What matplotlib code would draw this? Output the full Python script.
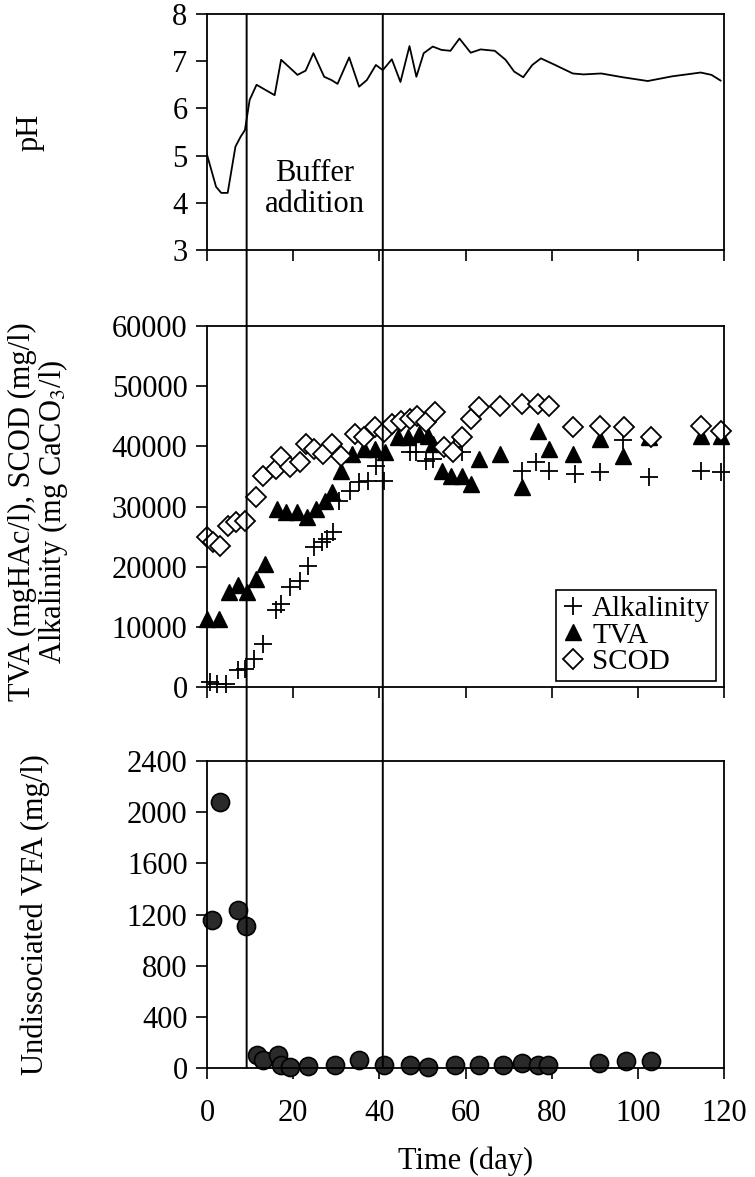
import numpy as np
import matplotlib.pyplot as plt
from matplotlib.patches import ConnectionPatch

plt.rcParams['font.family'] = ['Liberation Serif', 'DejaVu Serif']
plt.rcParams['mathtext.fontset'] = 'stix'

# pH (continuous trace)
ph_day = [0, 2.1, 3.3, 4.8, 6.6, 7.8, 8.8, 9.9, 11.5, 13.6, 15.7, 17.2, 19.0, 21.0,
          22.9, 24.7, 27.2, 28.9, 30.3, 33.0, 35.3, 37.1, 39.2, 40.8, 42.9, 44.9,
          47.0, 48.6, 50.3, 52.4, 54.4, 56.5, 58.6, 61.2, 63.5, 66.8, 69.3, 71.3,
          73.4, 75.5, 77.5, 80.8, 84.9, 87.4, 91.5, 96.5, 102.3, 108.0, 114.6,
          117.1, 119.2]
ph = [5.02, 4.34, 4.21, 4.21, 5.19, 5.40, 5.54, 6.18, 6.50, 6.39, 6.28, 7.03, 6.88,
      6.71, 6.80, 7.17, 6.67, 6.60, 6.52, 7.08, 6.46, 6.60, 6.92, 6.81, 7.04, 6.56,
      7.32, 6.67, 7.17, 7.31, 7.24, 7.22, 7.48, 7.18, 7.25, 7.22, 7.03, 6.78, 6.66,
      6.92, 7.06, 6.92, 6.74, 6.72, 6.74, 6.66, 6.58, 6.68, 6.76, 6.71, 6.59]

# Alkalinity (mg CaCO3/l)
alk_day = [0.7, 2.3, 4.3, 7.2, 8.9, 10.9, 13.0, 16.1, 17.1, 19.2, 21.6, 23.5, 24.9,
           26.6, 27.8, 29.3, 30.7, 33.2, 35.2, 37.3, 39.3, 41.0, 47.2, 48.4, 50.9,
           52.5, 57.4, 59.1, 73.1, 76.4, 79.3, 85.4, 91.2, 96.5, 102.7, 114.6, 119.2]
alk = [800, 550, 550, 2760, 3040, 4700, 7190, 12720, 13830, 16590, 17700, 20190,
       23230, 24060, 24610, 25720, 30970, 32630, 34020, 34290, 36780, 34290, 38990,
       38990, 37610, 37890, 39820, 38990, 35950, 37330, 35950, 35400, 35670, 41000,
       34840, 35950, 35670]

# TVA (mgHAc/l)
tva_day = [0, 2.7, 5.2, 7.2, 9.3, 11.4, 13.4, 16.3, 18.4, 20.8, 23.3, 25.3, 27.3,
           29.1, 31.1, 33.6, 36.5, 38.9, 41.4, 44.3, 46.7, 49.2, 51.3, 52.5, 54.6,
           56.7, 59.1, 61.2, 63.2, 68.1, 73.1, 76.8, 79.3, 85.0, 91.2, 96.5, 102.7,
           114.6, 119.2]
tva = [11340, 11340, 15760, 16870, 15760, 17980, 20460, 29590, 29150, 29040, 28210,
       29590, 30970, 32360, 35950, 38720, 39550, 39550, 38990, 41480, 41480, 42030,
       41760, 40380, 35950, 35120, 35120, 33740, 37890, 38720, 33190, 42590, 39550,
       38720, 41200, 38440, 41480, 41760, 41760]

# SCOD (mg/l)
scod_day = [0, 1.5, 3.1, 4.8, 6.8, 8.9, 11.4, 13.0, 15.9, 17.1, 19.2, 21.6, 22.9,
            24.9, 27.0, 29.1, 31.1, 34.4, 36.5, 38.9, 41.0, 43.0, 45.1, 47.2, 48.8,
            50.9, 52.9, 55.0, 57.0, 59.1, 61.2, 63.2, 68.1, 73.1, 76.8, 79.3, 85.0,
            91.2, 96.9, 103.1, 114.6, 119.2]
scod = [24890, 24060, 23510, 26830, 27380, 27650, 31530, 35120, 36230, 38160, 36500,
        37330, 40380, 39550, 38720, 40380, 38440, 42030, 41480, 43140, 42310, 43690,
        44250, 44520, 45080, 43970, 45630, 39820, 38990, 41480, 44520, 46460, 46740,
        47010, 47010, 46740, 43140, 43420, 43140, 41480, 43420, 42590]

# Undissociated VFA (mg/l)
vfa_day = [1.2, 3.0, 7.2, 9.0, 11.5, 13.1, 16.4, 17.2, 19.3, 23.4, 29.6, 35.3, 41.1,
           47.2, 51.3, 57.5, 63.2, 68.6, 73.1, 76.8, 79.2, 91.1, 97.3, 103.0]
vfa = [1157, 2080, 1235, 1110, 104, 65, 104, 26, 10, 13, 26, 65, 26, 26, 5, 26, 26,
       26, 39, 26, 26, 39, 52, 52]

event_days = [9.2, 40.8]

fig = plt.figure(figsize=(7.55, 11.77), dpi=100)
L, W = 207 / 755, 517 / 755
ax1 = fig.add_axes([L, 1 - 250 / 1177, W, 236 / 1177])
ax2 = fig.add_axes([L, 1 - 687 / 1177, W, 361 / 1177])
ax3 = fig.add_axes([L, 1 - 1068 / 1177, W, 307 / 1177])

fs = 22
for ax in (ax1, ax2, ax3):
    ax.set_xlim(0, 120)
    ax.set_xticks(np.arange(0, 121, 20))
    ax.tick_params(direction='out', length=8, width=1.2, labelsize=fs, pad=6)
    for s in ax.spines.values():
        s.set_linewidth(1.3)

# top: pH
ax1.plot(ph_day, ph, color='black', lw=1.3)
ax1.set_ylim(3, 8)
ax1.set_yticks(range(3, 9))
ax1.set_xticklabels([])
ax1.text(25, 4.3, 'Buffer\naddition', ha='center', va='center', fontsize=fs,
         linespacing=1.1)

# middle: alkalinity / TVA / SCOD
ax2.plot(alk_day, alk, ls='none', marker='+', ms=13, mew=1.3, color='black',
         clip_on=False, label='Alkalinity')
ax2.plot(tva_day, tva, ls='none', marker='^', ms=12, mfc='black', mec='black',
         clip_on=False, label='TVA')
ax2.plot(scod_day, scod, ls='none', marker='D', ms=10, mfc='white', mec='black',
         mew=1.3, clip_on=False, label='SCOD')
ax2.set_ylim(0, 60000)
ax2.set_yticks(range(0, 60001, 10000))
ax2.set_xticklabels([])
leg = ax2.legend(loc='lower right', bbox_to_anchor=(0.985, 0.017), fontsize=21,
                 frameon=True, fancybox=False, edgecolor='black', framealpha=1,
                 handlelength=0.8, handletextpad=0.25, labelspacing=0.0,
                 borderpad=0.2, borderaxespad=0)
leg.get_frame().set_linewidth(1.2)

# bottom: undissociated VFA
ax3.plot(vfa_day, vfa, ls='none', marker='o', ms=13, mfc='#2a2a2a', mec='black',
         mew=1.2, clip_on=False)
ax3.set_ylim(0, 2400)
ax3.set_yticks(range(0, 2401, 400))
ax3.tick_params(axis='x', pad=14)
ax3.set_xlabel('Time (day)', fontsize=fs, labelpad=14)

# buffer addition period lines spanning all panels
for d in event_days:
    con = ConnectionPatch(xyA=(d, 8), coordsA=ax1.transData,
                          xyB=(d, 0), coordsB=ax3.transData,
                          color='black', lw=1.4)
    fig.add_artist(con)

fig.text(30 / 755, 1 - 132 / 1177, 'pH', rotation=90, ha='center', va='center',
         fontsize=fs)
fig.text(39 / 755, 1 - 512 / 1177,
         'TVA (mgHAc/l), SCOD (mg/l)\nAlkalinity (mg CaCO$_3$/l)', rotation=90,
         ha='center', va='center', multialignment='center', fontsize=fs,
         linespacing=0.95)
fig.text(35 / 755, 1 - 915 / 1177, 'Undissociated VFA (mg/l)', rotation=90,
         ha='center', va='center', fontsize=fs)

fig.savefig('out.png', dpi=100)
